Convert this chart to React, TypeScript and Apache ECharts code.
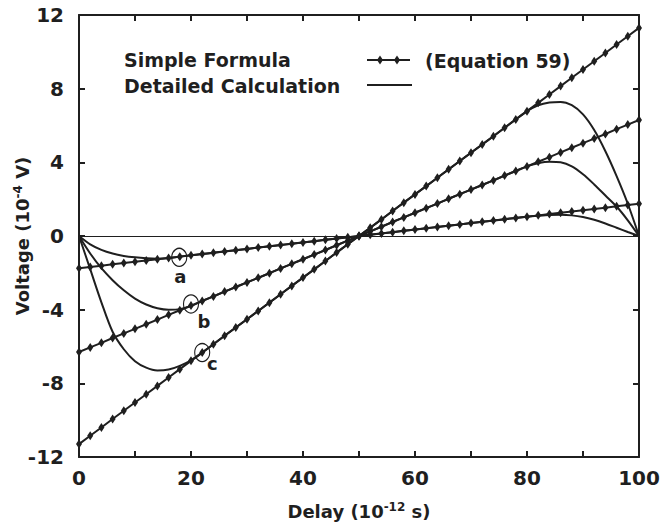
import React, { useEffect, useRef } from "react";
import * as echarts from "echarts";

// Delay grid (10^-12 s), sampled every 2
const xLine = [0, 2, 4, 6, 8, 10, 12, 14, 16, 18, 20, 22, 24, 26, 28, 30, 32, 34, 36, 38, 40, 42, 44, 46, 48, 50,
  52, 54, 56, 58, 60, 62, 64, 66, 68, 70, 72, 74, 76, 78, 80, 82, 84, 86, 88, 90, 92, 94, 96, 98, 100];

// Simple Formula (Equation 59) straight lines
const lineA = [-1.75, -1.68, -1.61, -1.54, -1.47, -1.40, -1.33, -1.26, -1.19, -1.12, -1.05, -0.98, -0.91, -0.84, -0.77, -0.70, -0.63, -0.56, -0.49, -0.42, -0.35, -0.28, -0.21, -0.14, -0.07, 0,
  0.07, 0.14, 0.21, 0.28, 0.35, 0.42, 0.49, 0.56, 0.63, 0.70, 0.77, 0.84, 0.91, 0.98, 1.05, 1.12, 1.19, 1.26, 1.33, 1.40, 1.47, 1.54, 1.61, 1.68, 1.75];
const lineB = [-6.30, -6.05, -5.80, -5.54, -5.29, -5.04, -4.79, -4.54, -4.28, -4.03, -3.78, -3.53, -3.28, -3.02, -2.77, -2.52, -2.27, -2.02, -1.76, -1.51, -1.26, -1.01, -0.76, -0.50, -0.25, 0,
  0.25, 0.50, 0.76, 1.01, 1.26, 1.51, 1.76, 2.02, 2.27, 2.52, 2.77, 3.02, 3.28, 3.53, 3.78, 4.03, 4.28, 4.54, 4.79, 5.04, 5.29, 5.54, 5.80, 6.05, 6.30];
const lineC = [-11.30, -10.85, -10.40, -9.94, -9.49, -9.04, -8.59, -8.14, -7.68, -7.23, -6.78, -6.33, -5.88, -5.42, -4.97, -4.52, -4.07, -3.62, -3.16, -2.71, -2.26, -1.81, -1.36, -0.90, -0.45, 0,
  0.45, 0.90, 1.36, 1.81, 2.26, 2.71, 3.16, 3.62, 4.07, 4.52, 4.97, 5.42, 5.88, 6.33, 6.78, 7.23, 7.68, 8.14, 8.59, 9.04, 9.49, 9.94, 10.40, 10.85, 11.30];

// Detailed Calculation curves (same delay grid)
const curveA = [0, -0.45, -0.75, -0.95, -1.08, -1.16, -1.21, -1.23, -1.2, -1.12, -1.05, -0.98, -0.91, -0.84, -0.77, -0.70, -0.63, -0.56, -0.49, -0.42, -0.35, -0.28, -0.21, -0.14, -0.07, 0,
  0.07, 0.14, 0.21, 0.28, 0.35, 0.42, 0.49, 0.56, 0.63, 0.70, 0.77, 0.84, 0.91, 0.98, 1.05, 1.1, 1.14, 1.15, 1.12, 1.03, 0.88, 0.68, 0.45, 0.22, 0];
const curveB = [0, -0.95, -1.75, -2.4, -2.95, -3.4, -3.72, -3.92, -4.0, -3.97, -3.8, -3.53, -3.28, -3.02, -2.77, -2.52, -2.27, -2.02, -1.76, -1.51, -1.26, -1.01, -0.76, -0.50, -0.25, 0,
  0.25, 0.50, 0.76, 1.01, 1.26, 1.51, 1.76, 2.02, 2.27, 2.52, 2.77, 3.02, 3.28, 3.53, 3.78, 3.95, 4.03, 4.0, 3.78, 3.35, 2.8, 2.2, 1.6, 0.85, 0];
const curveC = [0, -1.8, -3.6, -5.2, -6.15, -6.8, -7.15, -7.3, -7.25, -7.05, -6.75, -6.33, -5.88, -5.42, -4.97, -4.52, -4.07, -3.62, -3.16, -2.71, -2.26, -1.81, -1.36, -0.90, -0.45, 0,
  0.45, 0.90, 1.36, 1.81, 2.26, 2.71, 3.16, 3.62, 4.07, 4.52, 4.97, 5.42, 5.88, 6.33, 6.78, 7.1, 7.25, 7.28, 7.1, 6.6, 5.75, 4.6, 3.25, 1.75, 0];

// Annotation circles and their letters
const circleNames = ["a", "b", "c"];
const circlePoints = [[17.9, -1.16], [20, -3.69], [22, -6.33]];
const letterPoints = [[18.1, -2.2], [22.3, -4.65], [23.8, -6.9]];

const yTicks = [-12, -8, -4, 0, 4, 8, 12];

const INK = "#1f1f1f";
const FONT = '"DejaVu Sans", sans-serif';

function zip(xs: number[], ys: number[]) {
  return xs.map((x, i) => [x, ys[i]]);
}

export default function App() {
  const ref = useRef<HTMLDivElement>(null);
  useEffect(() => {
    if (!ref.current) return;
    const chart = echarts.init(ref.current, undefined, { renderer: "svg" });

    const straight = (name: string, ys: number[]) => ({
      name,
      type: "line",
      data: zip(xLine, ys),
      symbol: "diamond",
      symbolSize: [6, 9],
      lineStyle: { color: INK, width: 2 },
      itemStyle: { color: INK },
      z: 3,
    });
    const curve = (name: string, ys: number[]) => ({
      name,
      type: "line",
      data: zip(xLine, ys),
      symbol: "none",
      smooth: 0.3,
      lineStyle: { color: INK, width: 2 },
      z: 2,
    });

    const diamond = (cx: number, cy: number) => ({
      type: "polygon",
      shape: { points: [[cx, cy - 4.5], [cx + 3, cy], [cx, cy + 4.5], [cx - 3, cy]] },
      style: { fill: INK },
    });

    const nameStyle = {
      fontFamily: FONT,
      fontWeight: "bold",
      fontSize: 18,
      color: INK,
      rich: {
        sup: { fontFamily: FONT, fontWeight: "bold", fontSize: 12, color: INK, padding: [0, 0, 9, 0] },
      },
    };

    const option: any = {
      animation: false,
      backgroundColor: "#fff",
      grid: { left: 79, right: 21, top: 15, bottom: 74, containLabel: false, outerBoundsMode: "none" },
      xAxis: [
        {
          type: "value",
          min: 0,
          max: 100,
          interval: 10,
          position: "bottom",
          name: "Delay (10{sup|-12} s)",
          nameLocation: "middle",
          nameGap: 44,
          nameMoveOverlap: false,
          nameTextStyle: nameStyle,
          axisLine: { show: true, onZero: false, lineStyle: { color: INK, width: 2 } },
          axisTick: { show: true, inside: true, length: 6, lineStyle: { color: INK, width: 2 } },
          axisLabel: {
            margin: 11,
            fontFamily: FONT,
            fontWeight: "bold",
            fontSize: 20,
            color: INK,
            formatter: (v: number) => (v % 20 === 0 ? String(v) : ""),
          },
          splitLine: { show: false },
        },
        {
          type: "value",
          min: 0,
          max: 100,
          interval: 10,
          position: "top",
          axisLine: { show: true, onZero: false, lineStyle: { color: INK, width: 2 } },
          axisTick: { show: true, inside: true, length: 6, lineStyle: { color: INK, width: 2 } },
          axisLabel: { show: false },
          splitLine: { show: false },
        },
      ],
      yAxis: [
        {
          type: "value",
          min: yTicks[0],
          max: yTicks[yTicks.length - 1],
          interval: 4,
          position: "left",
          name: "Voltage (10{sup|-4} V)",
          nameLocation: "middle",
          nameRotate: 90,
          nameGap: 46,
          nameMoveOverlap: false,
          nameTextStyle: nameStyle,
          axisLine: { show: true, onZero: false, lineStyle: { color: INK, width: 2 } },
          axisTick: { show: true, inside: true, length: 6, lineStyle: { color: INK, width: 2 } },
          axisLabel: { margin: 15, fontFamily: FONT, fontWeight: "bold", fontSize: 20, color: INK },
          splitLine: { show: false },
        },
        {
          type: "value",
          min: yTicks[0],
          max: yTicks[yTicks.length - 1],
          interval: 4,
          position: "right",
          axisLine: { show: true, onZero: false, lineStyle: { color: INK, width: 2 } },
          axisTick: { show: true, inside: true, length: 6, lineStyle: { color: INK, width: 2 } },
          axisLabel: { show: false },
          splitLine: { show: false },
        },
      ],
      series: [
        {
          ...straight("Simple Formula a", lineA),
          markLine: {
            silent: true,
            symbol: "none",
            label: { show: false },
            lineStyle: { color: INK, width: 1, type: "solid" },
            data: [{ yAxis: 0 }],
          },
        },
        straight("Simple Formula b", lineB),
        straight("Simple Formula c", lineC),
        curve("Detailed Calculation a", curveA),
        curve("Detailed Calculation b", curveB),
        curve("Detailed Calculation c", curveC),
        {
          name: "circles",
          type: "scatter",
          data: circlePoints,
          symbol: "circle",
          symbolSize: [15, 18],
          itemStyle: { color: "rgba(0,0,0,0)", borderColor: INK, borderWidth: 1.2, opacity: 1 },
          z: 5,
        },
        {
          name: "letters",
          type: "scatter",
          data: letterPoints.map((p, i) => ({ value: p, name: circleNames[i] })),
          symbolSize: 0,
          itemStyle: { opacity: 1 },
          label: {
            show: true,
            position: "inside",
            formatter: (p: any) => p.name,
            fontFamily: FONT,
            fontWeight: "bold",
            fontSize: 18,
            color: INK,
          },
          z: 5,
        },
      ],
      graphic: [
        {
          type: "text",
          x: 124,
          y: 60,
          style: { text: "Simple Formula", fontFamily: FONT, fontWeight: "bold", fontSize: 19, fill: INK, verticalAlign: "middle" },
        },
        {
          type: "text",
          x: 124,
          y: 86,
          style: { text: "Detailed Calculation", fontFamily: FONT, fontWeight: "bold", fontSize: 19, fill: INK, verticalAlign: "middle" },
        },
        {
          type: "text",
          x: 425,
          y: 61,
          style: { text: "(Equation 59)", fontFamily: FONT, fontWeight: "bold", fontSize: 19, fill: INK, verticalAlign: "middle" },
        },
        { type: "line", shape: { x1: 367, y1: 60, x2: 410, y2: 60 }, style: { stroke: INK, lineWidth: 2 } },
        diamond(380, 60),
        diamond(397, 60),
        { type: "line", shape: { x1: 367, y1: 85, x2: 412, y2: 85 }, style: { stroke: INK, lineWidth: 2 } },
      ],
    };
    chart.setOption(option);
    return () => chart.dispose();
  }, []);
  return <div ref={ref} style={{ position: "fixed", left: 0, top: 0, width: 660, height: 531 }} />;
}
